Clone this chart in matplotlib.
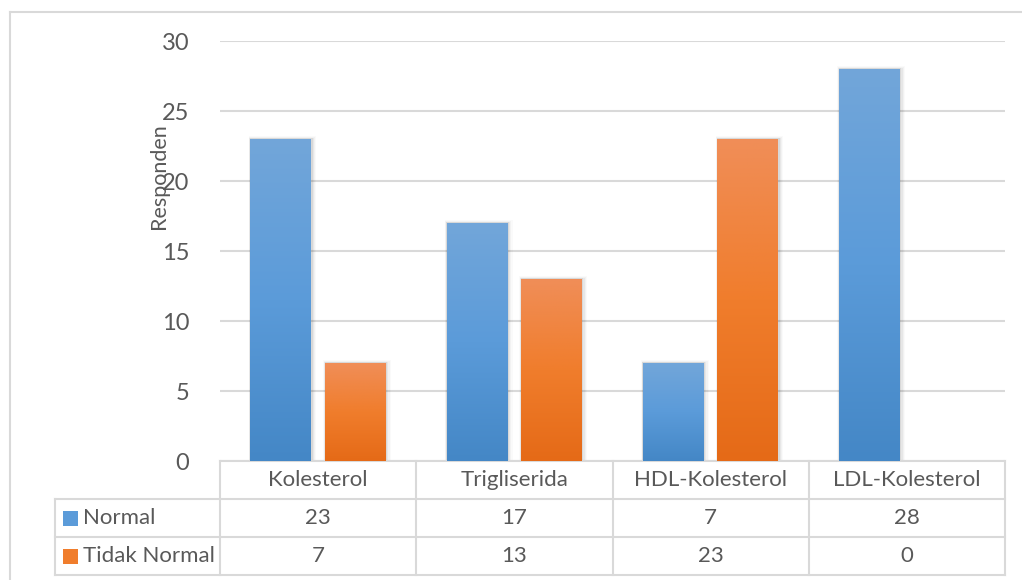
import numpy as np
import matplotlib
matplotlib.use("Agg")
from matplotlib import pyplot as plt
from matplotlib.colors import LinearSegmentedColormap
from matplotlib.patches import Rectangle
from matplotlib.lines import Line2D

plt.rcParams["font.family"] = ["Lato", "DejaVu Sans"]

categories = ["Kolesterol", "Trigliserida", "HDL-Kolesterol", "LDL-Kolesterol"]
series_names = ["Normal", "Tidak Normal"]
normal = [23, 17, 7, 28]
tidak_normal = [7, 13, 23, 0]
yticks = [0, 5, 10, 15, 20, 25, 30]

blue_grad = LinearSegmentedColormap.from_list("b", ["#4487c6", "#5b9bd9", "#72a6da"])
orange_grad = LinearSegmentedColormap.from_list("o", ["#e56a17", "#f07d2c", "#f08e58"])
text_col = "#595959"
grid_col = "#d9d9d9"
fs = 16

W, H = 1022, 580
fig = plt.figure(figsize=(W / 100, H / 100), dpi=100)
ax = fig.add_axes([220 / W, 1 - 461 / H, 785 / W, 420 / H])

x = np.arange(len(categories))
width = 0.31
offset = 0.19


def gradient_bar(xc, h, cmap):
    if h <= 0:
        return
    x0, x1 = xc - width / 2, xc + width / 2
    # soft shadow
    for i, a in enumerate([0.06, 0.045, 0.03, 0.02]):
        d = 0.004 * (i + 1)
        ax.add_patch(Rectangle((x0 - d * 0.6, 0), width + d * 2.2, h + d * 12,
                               facecolor="black", edgecolor="none", alpha=a, zorder=2))
    grad = np.linspace(0, 1, 256).reshape(-1, 1)
    im = ax.imshow(grad, cmap=cmap, extent=[x0, x1, 0, h], origin="lower",
                   aspect="auto", zorder=3)
    rect = Rectangle((x0, 0), width, h, facecolor="none", edgecolor="none")
    ax.add_patch(rect)
    im.set_clip_path(rect)


for xi, v in zip(x, normal):
    gradient_bar(xi - offset, v, blue_grad)
for xi, v in zip(x, tidak_normal):
    gradient_bar(xi + offset, v, orange_grad)

ax.set_xlim(-0.5, len(categories) - 0.5)
ax.set_ylim(0, 30)
ax.set_yticks(yticks)
ax.set_xticks([])
ax.yaxis.grid(True, color=grid_col, linewidth=1.5, zorder=0)
ax.set_axisbelow(True)
for s in ax.spines.values():
    s.set_visible(False)
ax.tick_params(axis="y", length=0, pad=22, labelsize=17, labelcolor=text_col)
ax.set_ylabel("Responden", fontsize=15.5, color=text_col)
ax.yaxis.set_label_coords(-0.065, 0.679)

# data table below the plot
row_h = 38 / 420
tr = ax.get_xaxis_transform()
left_px = 55
left_data = -0.5 - (220 - left_px) / 785 * len(categories)
lw = 1.5
lkw = dict(color=grid_col, linewidth=lw, transform=tr, clip_on=False)

# horizontal lines
ax.add_line(Line2D([-0.5, 3.5], [0, 0], **lkw))
for r in range(1, 4):
    ax.add_line(Line2D([left_data, 3.5], [-r * row_h, -r * row_h], **lkw))
# vertical lines
for c in range(len(categories) + 1):
    ax.add_line(Line2D([c - 0.5, c - 0.5], [0, -3 * row_h], **lkw))
ax.add_line(Line2D([left_data, left_data], [-row_h, -3 * row_h], **lkw))

for i, c in enumerate(categories):
    ax.text(i, -0.5 * row_h, c, transform=tr, ha="center", va="center",
            fontsize=fs, color=text_col)
for r, (name, vals, cmap) in enumerate(zip(series_names, [normal, tidak_normal],
                                            [blue_grad, orange_grad])):
    yc = -(r + 1.5) * row_h
    for i, v in enumerate(vals):
        ax.text(i, yc, str(v), transform=tr, ha="center", va="center",
                fontsize=fs, color=text_col)
    kx0 = left_data + 8 / 785 * 4
    kw = 15 / 785 * 4
    kh = 15 / 420
    key = Rectangle((kx0, yc - kh / 2), kw, kh, transform=tr, clip_on=False,
                    facecolor=cmap(0.5), edgecolor="none")
    ax.add_patch(key)
    ax.text(kx0 + kw + 5 / 785 * 4, yc, name, transform=tr, ha="left", va="center",
            fontsize=fs, color=text_col)

# outer chart border (top and left)
fig.add_artist(Line2D([10 / W, 1], [1 - 12 / H, 1 - 12 / H], color=grid_col,
                      linewidth=1.5, transform=fig.transFigure))
fig.add_artist(Line2D([10 / W, 10 / W], [0, 1 - 12 / H], color=grid_col,
                      linewidth=1.5, transform=fig.transFigure))

fig.savefig("out.png", dpi=100)
